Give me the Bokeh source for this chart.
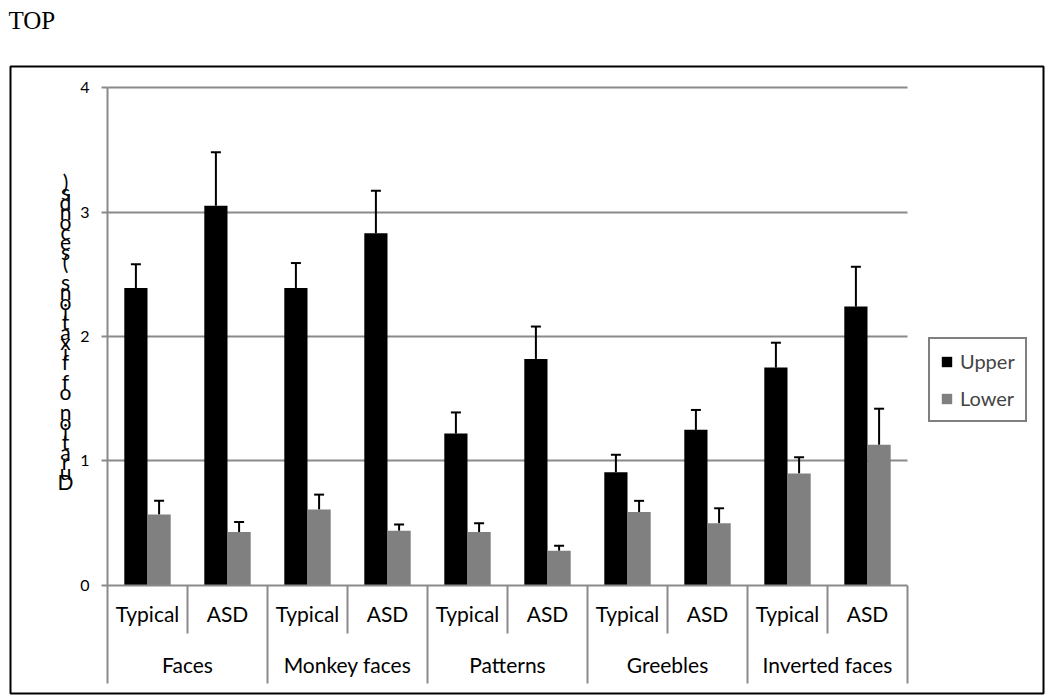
from bokeh.plotting import figure
from bokeh.models import (ColumnDataSource, Range1d, LinearAxis, FixedTicker, Grid,
                          Whisker, TeeHead, Legend, LegendItem, Title, CustomJSTickFormatter)
from bokeh.core.properties import value
from bokeh.embed import file_html
from bokeh.resources import INLINE

# ---------------- data ----------------
groups = ["Faces", "Monkey faces", "Patterns", "Greebles", "Inverted faces"]
subgroups = ["Typical", "ASD"]
upper = [2.39, 3.05, 2.39, 2.83, 1.22, 1.82, 0.91, 1.25, 1.75, 2.24]
upper_err = [0.19, 0.43, 0.20, 0.34, 0.17, 0.26, 0.14, 0.16, 0.20, 0.32]
lower = [0.57, 0.43, 0.61, 0.44, 0.43, 0.28, 0.59, 0.50, 0.90, 1.13]
lower_err = [0.11, 0.08, 0.12, 0.05, 0.07, 0.04, 0.09, 0.12, 0.13, 0.29]
y_ticks = [0, 1, 2, 3, 4]
y_title = "Duration of fixations (seconds)"
chart_caption = "TOP"

FONT = "Lato"
GRID = "#8a8a8a"

n = len(upper)
sub_labels = [s for g in groups for s in subgroups]
centers = [i + 0.5 for i in range(n)]
bw = 0.29

src_u = ColumnDataSource(dict(x=[c - bw / 2 for c in centers], top=upper,
                              err=[v + e for v, e in zip(upper, upper_err)]))
src_l = ColumnDataSource(dict(x=[c + bw / 2 for c in centers], top=lower,
                              err=[v + e for v, e in zip(lower, lower_err)]))

p = figure(width=1045, height=695, output_backend="svg", toolbar_location=None,
           x_axis_type=None, y_axis_type=None,
           x_range=Range1d(-1.2125, 11.7), y_range=Range1d(-0.8675, 4.1687),
           min_border_left=10, min_border_right=2, min_border_top=66, min_border_bottom=2)
p.outline_line_color = "black"
p.outline_line_width = 2
p.background_fill_color = "white"
p.border_fill_color = "white"

# caption; the empty second line reserves the gap between caption and chart box
p.title = Title(text=chart_caption + "\n ", align="left", text_font="Liberation Serif",
                text_font_size="25px", text_font_style="normal", text_color="black",
                vertical_align="top", standoff=8, offset=-2)

# gridlines
grid = Grid(dimension=1, ticker=FixedTicker(ticks=y_ticks[1:]), cross_bounds=(0, n),
            grid_line_color=GRID, grid_line_width=2)
p.add_layout(grid)

# bars
r_u = p.vbar(x="x", top="top", width=bw, bottom=0, source=src_u,
             fill_color="black", line_color=None)
r_l = p.vbar(x="x", top="top", width=bw, bottom=0, source=src_l,
             fill_color="#808080", line_color=None)

for src in (src_u, src_l):
    w = Whisker(source=src, base="x", lower="top", upper="err", dimension="height",
                line_color="black", line_width=2, lower_head=None,
                upper_head=TeeHead(size=10, line_color="black", line_width=2))
    p.add_layout(w)

# y axis
yax = LinearAxis(fixed_location=0, bounds=(0, 4), ticker=FixedTicker(ticks=y_ticks),
                 axis_line_color=GRID, axis_line_width=2,
                 major_tick_line_color=GRID, major_tick_line_width=2,
                 major_tick_out=6, major_tick_in=0, minor_tick_line_color=None,
                 major_label_text_font=FONT, major_label_text_font_size="16px",
                 major_label_text_color="black", major_label_standoff=12)
p.add_layout(yax, "left")

# x axis: line and separators
sep_ax = LinearAxis(fixed_location=0, bounds=(0, n),
                    ticker=FixedTicker(ticks=list(range(0, n + 1, 2)),
                                       minor_ticks=list(range(1, n, 2))),
                    axis_line_color=GRID, axis_line_width=2,
                    major_tick_line_color=GRID, major_tick_line_width=2,
                    major_tick_out=98, major_tick_in=0,
                    minor_tick_line_color=GRID, minor_tick_line_width=2,
                    minor_tick_out=48, minor_tick_in=0,
                    major_label_text_font_size="0px",
                    formatter=CustomJSTickFormatter(code="return ''"))
p.add_layout(sep_ax, "below")

sub_ax = LinearAxis(fixed_location=0,
                    ticker=FixedTicker(ticks=centers, minor_ticks=[]),
                    formatter=CustomJSTickFormatter(args=dict(labels=sub_labels),
                                                    code="return labels[Math.floor(tick)]"),
                    axis_line_color=None, major_tick_line_color=None, major_tick_out=0,
                    major_tick_in=0, minor_tick_line_color=None,
                    major_label_text_font=FONT, major_label_text_font_size="21px",
                    major_label_text_color="black", major_label_standoff=16)
p.add_layout(sub_ax, "below")

grp_ax = LinearAxis(fixed_location=0,
                    ticker=FixedTicker(ticks=[2 * g + 1 for g in range(len(groups))], minor_ticks=[]),
                    formatter=CustomJSTickFormatter(args=dict(labels=groups),
                                                    code="return labels[Math.floor(tick / 2)]"),
                    axis_line_color=None, major_tick_line_color=None, major_tick_out=0,
                    major_tick_in=0, minor_tick_line_color=None,
                    major_label_text_font=FONT, major_label_text_font_size="21px",
                    major_label_text_color="black", major_label_standoff=67)
p.add_layout(grp_ax, "below")

# stacked y title
stacked = "\n".join(reversed(list(y_title)))
p.text(x=[-0.525], y=[2.044], text=[stacked], text_font=value(FONT),
       text_font_size="21px", text_align="center", text_baseline="middle",
       text_line_height=0.40, text_color="black")

legend = Legend(items=[LegendItem(label="Upper", renderers=[r_u]),
                       LegendItem(label="Lower", renderers=[r_l])],
                location=(918, 271), border_line_color="black", border_line_width=2,
                padding=10, spacing=13, glyph_width=13, glyph_height=13,
                label_standoff=7, label_text_font=FONT, label_text_font_size="20px",
                label_height=20, background_fill_alpha=1.0, margin=0)
p.add_layout(legend)

open("out.html", "w").write(file_html(p, INLINE))
